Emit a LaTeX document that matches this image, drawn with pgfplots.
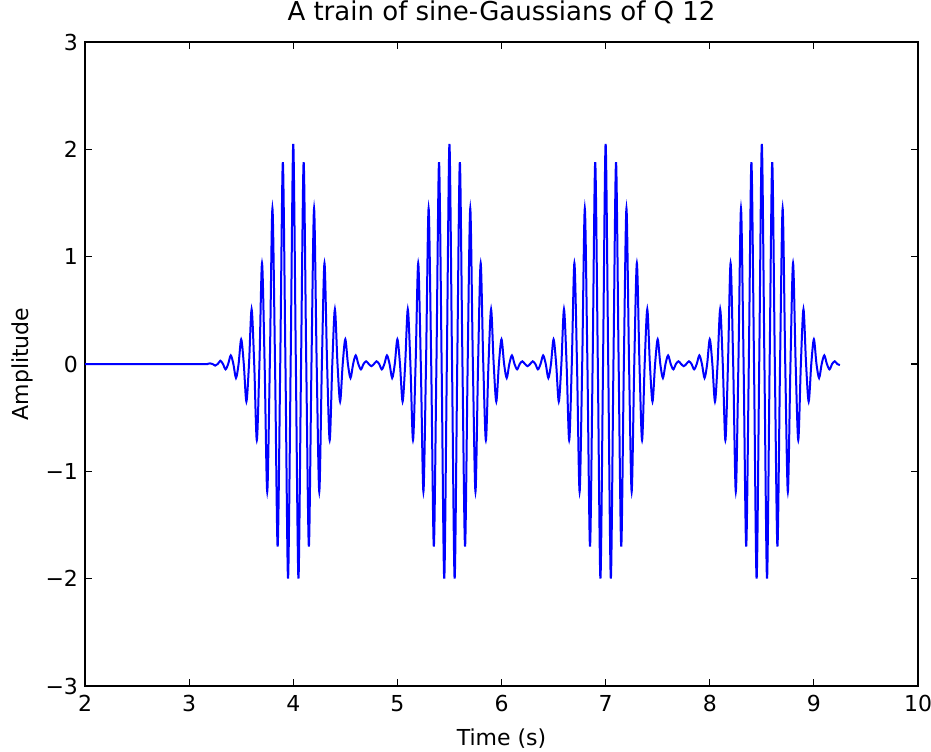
\documentclass[border=0pt]{standalone}
\usepackage{fontspec}
\setmainfont{DejaVu Sans}
\usepackage{pgfplots}
\pgfplotsset{compat=1.18}

\begin{document}
\begin{tikzpicture}
\begin{axis}[
  name=ax,
  scale only axis,
  width=416.5pt, height=322pt,
  xmin=2, xmax=10, ymin=-3, ymax=3,
  xtick={2,...,10}, ytick={-3,...,3},
  yticklabels={−3,−2,−1,0,1,2,3},
  /pgf/number format/assume math mode=true,
  tick label style={font=\fontsize{11}{13}\selectfont},
  xticklabel style={yshift=-1pt},
  label style={font=\fontsize{11}{13}\selectfont},
  title={A train of sine-Gaussians of Q 12},
  title style={font=\fontsize{13}{15}\selectfont,
    at={(axis description cs:0.5,1.014)}, anchor=base},
  xlabel={Time (s)}, ylabel={Amplitude},
  xlabel style={at={(axis description cs:0.5,-0.0823)}, anchor=center},
  ylabel style={at={(axis description cs:-0.0756,0.5)}, anchor=center},
  major tick length=3.5pt,
  tick style={black, line width=0.6pt},
  axis line style={line width=0.8pt},
]
\addplot[blue, line width=1pt, smooth, tension=0.5] coordinates {
  (2.0,0) (3.1,0) (3.15,0)
  (3.175,0) (3.2,0.006) (3.225,0) (3.25,-0.015) (3.275,0) (3.3,0.03) (3.325,0) (3.35,-0.05)
  (3.375,0) (3.4,0.08) (3.425,0) (3.45,-0.13) (3.475,0) (3.5,0.23) (3.525,0) (3.55,-0.35)
  (3.575,0) (3.6,0.51) (3.625,0) (3.65,-0.71) (3.675,0) (3.7,0.94) (3.725,0) (3.75,-1.19)
  (3.775,0) (3.8,1.45) (3.825,0) (3.85,-1.7) (3.875,0) (3.9,1.88) (3.925,0) (3.95,-2.0)
  (3.975,0) (4.0,2.05) (4.025,0) (4.05,-2.0) (4.075,0) (4.1,1.88) (4.125,0) (4.15,-1.7)
  (4.175,0) (4.2,1.45) (4.225,0) (4.25,-1.19) (4.275,0) (4.3,0.94) (4.325,0) (4.35,-0.71)
  (4.375,0) (4.4,0.51) (4.425,0) (4.45,-0.35) (4.475,0) (4.5,0.23) (4.525,0) (4.55,-0.13)
  (4.575,0) (4.6,0.08) (4.625,0) (4.65,-0.05) (4.675,0) (4.7,0.025) (4.725,0) (4.75,-0.02)
  (4.775,0) (4.8,0.025) (4.825,0) (4.85,-0.05) (4.875,0) (4.9,0.08) (4.925,0) (4.95,-0.13)
  (4.975,0) (5.0,0.23)
  (5.025,0) (5.05,-0.35) (5.075,0) (5.1,0.51) (5.125,0) (5.15,-0.71) (5.175,0) (5.2,0.94)
  (5.225,0) (5.25,-1.19) (5.275,0) (5.3,1.45) (5.325,0) (5.35,-1.7) (5.375,0) (5.4,1.88)
  (5.425,0) (5.45,-2.0) (5.475,0) (5.5,2.05) (5.525,0) (5.55,-2.0) (5.575,0) (5.6,1.88)
  (5.625,0) (5.65,-1.7) (5.675,0) (5.7,1.45) (5.725,0) (5.75,-1.19) (5.775,0) (5.8,0.94)
  (5.825,0) (5.85,-0.71) (5.875,0) (5.9,0.51) (5.925,0) (5.95,-0.35) (5.975,0) (6.0,0.23)
  (6.025,0) (6.05,-0.13) (6.075,0) (6.1,0.08) (6.125,0) (6.15,-0.05) (6.175,0) (6.2,0.025)
  (6.225,0) (6.25,-0.02) (6.275,0) (6.3,0.025) (6.325,0) (6.35,-0.05) (6.375,0) (6.4,0.08)
  (6.425,0) (6.45,-0.13) (6.475,0) (6.5,0.23)
  (6.525,0) (6.55,-0.35) (6.575,0) (6.6,0.51) (6.625,0) (6.65,-0.71) (6.675,0) (6.7,0.94)
  (6.725,0) (6.75,-1.19) (6.775,0) (6.8,1.45) (6.825,0) (6.85,-1.7) (6.875,0) (6.9,1.88)
  (6.925,0) (6.95,-2.0) (6.975,0) (7.0,2.05) (7.025,0) (7.05,-2.0) (7.075,0) (7.1,1.88)
  (7.125,0) (7.15,-1.7) (7.175,0) (7.2,1.45) (7.225,0) (7.25,-1.19) (7.275,0) (7.3,0.94)
  (7.325,0) (7.35,-0.71) (7.375,0) (7.4,0.51) (7.425,0) (7.45,-0.35) (7.475,0) (7.5,0.23)
  (7.525,0) (7.55,-0.13) (7.575,0) (7.6,0.08) (7.625,0) (7.65,-0.05) (7.675,0) (7.7,0.025)
  (7.725,0) (7.75,-0.02) (7.775,0) (7.8,0.025) (7.825,0) (7.85,-0.05) (7.875,0) (7.9,0.08)
  (7.925,0) (7.95,-0.13) (7.975,0) (8.0,0.23)
  (8.025,0) (8.05,-0.35) (8.075,0) (8.1,0.51) (8.125,0) (8.15,-0.71) (8.175,0) (8.2,0.94)
  (8.225,0) (8.25,-1.19) (8.275,0) (8.3,1.45) (8.325,0) (8.35,-1.7) (8.375,0) (8.4,1.88)
  (8.425,0) (8.45,-2.0) (8.475,0) (8.5,2.05) (8.525,0) (8.55,-2.0) (8.575,0) (8.6,1.88)
  (8.625,0) (8.65,-1.7) (8.675,0) (8.7,1.45) (8.725,0) (8.75,-1.19) (8.775,0) (8.8,0.94)
  (8.825,0) (8.85,-0.71) (8.875,0) (8.9,0.51) (8.925,0) (8.95,-0.35) (8.975,0) (9.0,0.23)
  (9.025,0) (9.05,-0.13) (9.075,0) (9.1,0.08) (9.125,0) (9.15,-0.05) (9.175,0) (9.2,0.025)
  (9.225,0) (9.25,-0.01)
};
\end{axis}
\pgfresetboundingbox
\path (ax.south west) ++(-42.5pt,-32.5pt) rectangle ([shift={(6.5pt,21pt)}]ax.north east);
\end{tikzpicture}
\end{document}
